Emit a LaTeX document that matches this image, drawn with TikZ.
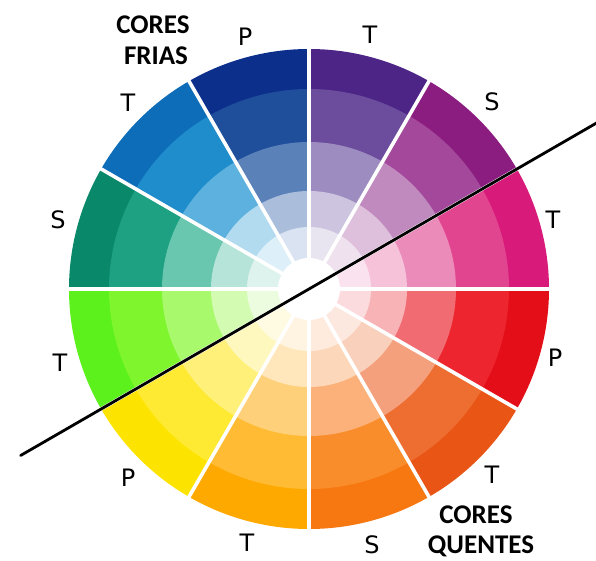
\documentclass[tikz,border=0pt]{standalone}
\usepackage{fontspec}
\usetikzlibrary{calc}
\setmainfont{DejaVu Sans}
\newfontfamily\titlefont{Carlito}
\begin{document}
\begin{tikzpicture}[x=1pt,y=1pt,
  lbl/.style={inner sep=0pt, text depth=0pt, font=\fontsize{24}{24}\selectfont},
  ttl/.style={inner sep=0pt, text depth=0pt, font=\titlefont\bfseries\fontsize{27}{27}\selectfont},
  gap/.style={draw=white, line width=3.6pt},
  divider/.style={draw=black, line width=2.8pt, line cap=round}]
\useasboundingbox (0,0) rectangle (596,560);
\fill[white] (0,0) rectangle (596,560);
\coordinate (C) at (309,271);
\foreach \a/\ca/\cb/\cc/\cd/\ce in {
  0/D81B7A/E2458F/EB8BBA/F5C2DA/FAE2EE,
  30/8C1D80/A3489B/C18ABF/DEC0DC/EFE1EE,
  60/4C2587/6B4C9D/9D8CC0/CDC5E0/E8E5F1,
  90/0D2F8C/1F4F9B/5B81B9/AABEDC/D9E3F1,
  120/0E6DB9/1F8CCB/5DB1DE/B3DBEF/DDEFF8,
  150/0A896A/1EA083/6AC7AF/B7E4D8/DEF3ED,
  180/5CF01C/7EF52C/A9F96C/D3FBB2/ECFDDF,
  210/FDE400/FEEA33/FFF07A/FFF8BE/FFFBE3,
  240/FEA900/FEBB33/FFD07A/FFE6BB/FFF3E1,
  270/F77810/F98D2C/FBB179/FDD7B9/FEEBDE,
  300/E85515/EE6D30/F4A07C/F9D0BB/FCE8DE,
  330/E30E18/EC252F/F16C72/F7B3B6/FBDBDD}{
  \definecolor{rA}{HTML}{\ca}
  \definecolor{rB}{HTML}{\cb}
  \definecolor{rC}{HTML}{\cc}
  \definecolor{rD}{HTML}{\cd}
  \definecolor{rE}{HTML}{\ce}
  \foreach \r/\col in {240/rA,200/rB,147/rC,98/rD,62/rE}{
    \fill[\col] (C) -- ++(\a:\r) arc[start angle=\a, end angle=\a+30, radius=\r] -- cycle;
  }
}
\fill[white] (C) circle[radius=31];
\foreach \a in {0,30,...,330}{
  \coordinate (g\a) at ($(C)+(\a:242)$);
  \draw[gap] (C) -- (g\a);
}
\coordinate (Lend) at ($(C)+(210:333)$);
\coordinate (Rend) at ($(C)+(30:333)$);
\draw[divider] (Lend) -- (Rend);
% labels
\node[lbl] (p1) at (245,523) {P};
\node[lbl] (t1) at (370,525) {T};
\node[lbl] (t2) at (128,457) {T};
\node[lbl] (s1) at (58,340) {S};
\node[lbl] (s2) at (492,458) {S};
\node[lbl] (t3) at (553,340) {T};
\node[lbl] (t4) at (60,197) {T};
\node[lbl] (p2) at (128,82) {P};
\node[lbl] (t5) at (247,17) {T};
\node[lbl] (p3) at (555,202) {P};
\node[lbl] (t6) at (492,85) {T};
\node[lbl] (s3) at (372,15) {S};
\node[ttl] (cf1) at (153,535) {CORES};
\node[ttl] (cf2) at (156,504) {FRIAS};
\node[ttl] (cq1) at (476,45) {CORES};
\node[ttl] (cq2) at (481,15) {QUENTES};
\end{tikzpicture}
\end{document}
